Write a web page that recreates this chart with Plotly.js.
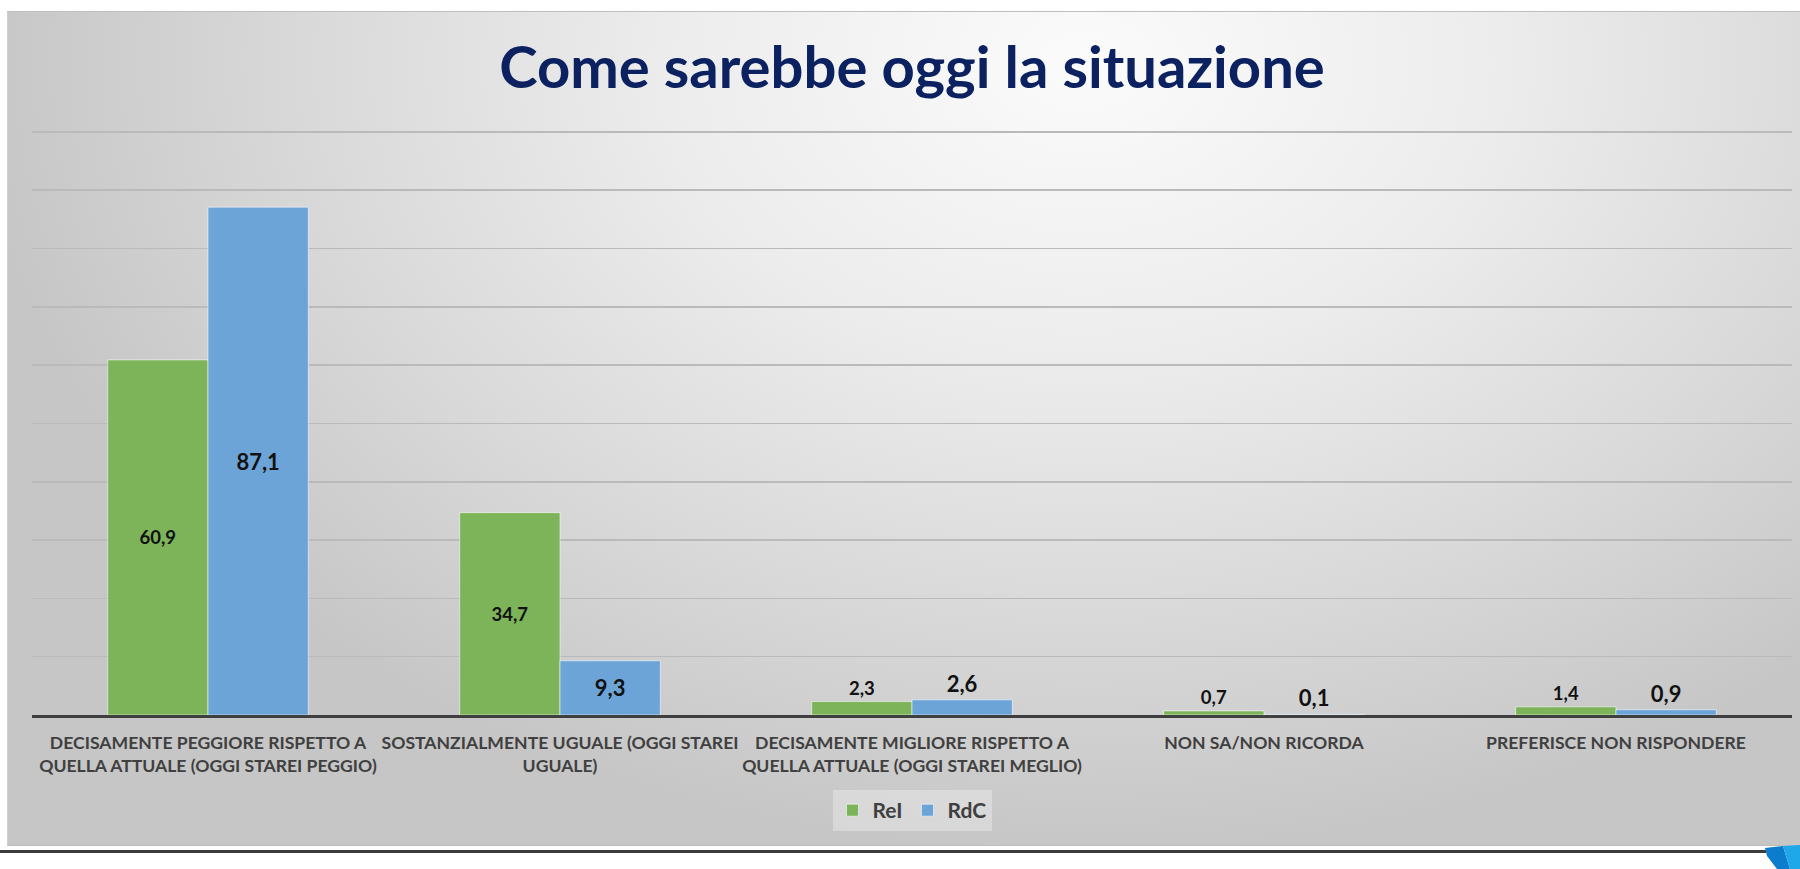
<!DOCTYPE html>
<html>
<head>
<meta charset="utf-8">
<script src="https://cdn.plot.ly/plotly-3.0.1.min.js"></script>
<style>
  html, body { margin: 0; padding: 0; background: #ffffff; width: 1800px; height: 869px; overflow: hidden; }
  #frame {
    position: absolute; left: 7px; top: 11px; width: 1793px; height: 835px;
    box-sizing: border-box;
    border-top: 1px solid #bdbdbd; border-left: 1px solid #d0d0d0; border-bottom: 1px solid #bfbfbf;
    background: radial-gradient(ellipse 62% 95% at 60% 6%, #fbfbfb 0%, #ececec 38%, #d9d9d9 70%, #c6c6c6 100%);
  }
  #rule { position: absolute; left: 0; top: 850px; width: 1766px; height: 3px; background: #3b3b3b; }
  #deco { position: absolute; left: 1764px; top: 845px; width: 36px; height: 24px; }
  #chart { position: absolute; left: 0; top: 0; width: 1800px; height: 869px; }
</style>
</head>
<body>
<div id="frame"></div>
<div id="rule"></div>
<svg id="deco" viewBox="0 0 36 24">
  <polygon points="1,3 19,1 26,24 13,24 3,11" fill="#0c7ccc"/>
  <polygon points="19,1 36,0 36,24 26,24" fill="#1ea8ea"/>
</svg>
<div id="chart"></div>
<script>
const categories = [
  "DECISAMENTE PEGGIORE RISPETTO A<br>QUELLA ATTUALE (OGGI STAREI PEGGIO)",
  "SOSTANZIALMENTE UGUALE (OGGI STAREI<br>UGUALE)",
  "DECISAMENTE MIGLIORE RISPETTO A<br>QUELLA ATTUALE (OGGI STAREI MEGLIO)",
  "NON SA/NON RICORDA",
  "PREFERISCE NON RISPONDERE"
];
const seriesNames = ["ReI", "RdC"];
const reiValues = [60.9, 34.7, 2.3, 0.7, 1.4];
const rdcValues = [87.1, 9.3, 2.6, 0.1, 0.9];
const chartTitle = "Come sarebbe oggi la situazione";

const FONT = "Lato, 'Open Sans', sans-serif";

const traces = [
  {
    type: "bar", name: seriesNames[0], x: categories, y: reiValues,
    marker: { color: "#7db45a", line: { color: "rgba(255,255,255,0.55)", width: 1 } },
    texttemplate: "%{y:.1f}", textposition: "auto", insidetextanchor: "middle",
    textfont: { family: FONT, size: 18.5, color: "#111111", weight: 700 },
    insidetextfont: { family: FONT, size: 18.5, color: "#111111", weight: 700 },
    outsidetextfont: { family: FONT, size: 18.5, color: "#111111", weight: 700 },
    cliponaxis: false, hoverinfo: "skip"
  },
  {
    type: "bar", name: seriesNames[1], x: categories, y: rdcValues,
    marker: { color: "#6da4d7", line: { color: "rgba(255,255,255,0.55)", width: 1 } },
    texttemplate: "%{y:.1f}", textposition: "auto", insidetextanchor: "middle",
    textfont: { family: FONT, size: 22, color: "#111111", weight: 700 },
    insidetextfont: { family: FONT, size: 22, color: "#111111", weight: 700 },
    outsidetextfont: { family: FONT, size: 22, color: "#111111", weight: 700 },
    cliponaxis: false, hoverinfo: "skip"
  }
];

const layout = {
  width: 1800, height: 869,
  paper_bgcolor: "rgba(0,0,0,0)", plot_bgcolor: "rgba(0,0,0,0)",
  separators: ",.",
  margin: { l: 32, r: 8, t: 129, b: 154, pad: 0 },
  barmode: "group", bargap: 0.43, bargroupgap: 0,
  title: {
    text: chartTitle, x: 0.5, xanchor: "center", xref: "paper",
    y: 0.922, yanchor: "middle", yref: "container",
    font: { family: FONT, size: 58, color: "#0b2160", weight: 700 }
  },
  xaxis: {
    type: "category", showgrid: false, zeroline: false,
    showline: true, linecolor: "#3f3f3f", linewidth: 3,
    ticks: "outside", ticklen: 10, tickcolor: "rgba(0,0,0,0)",
    tickfont: { family: FONT, size: 17.6, color: "#404040", weight: 700 },
    fixedrange: true
  },
  yaxis: {
    range: [0, 100.5], tick0: 0, dtick: 10, showticklabels: false, zeroline: false,
    showgrid: true, gridcolor: "#bababa", gridwidth: 1.5, showline: false,
    fixedrange: true
  },
  showlegend: true,
  legend: {
    orientation: "h", x: 0.5, xanchor: "center", xref: "paper",
    y: -0.163, yanchor: "middle", yref: "paper",
    bgcolor: "rgba(255,255,255,0.3)", borderwidth: 0,
    font: { family: FONT, size: 21, color: "#404040", weight: 700 },
    traceorder: "normal", itemclick: false, itemdoubleclick: false
  }
};

Plotly.newPlot("chart", traces, layout, { displayModeBar: false, staticPlot: true });
</script>
</body>
</html>
